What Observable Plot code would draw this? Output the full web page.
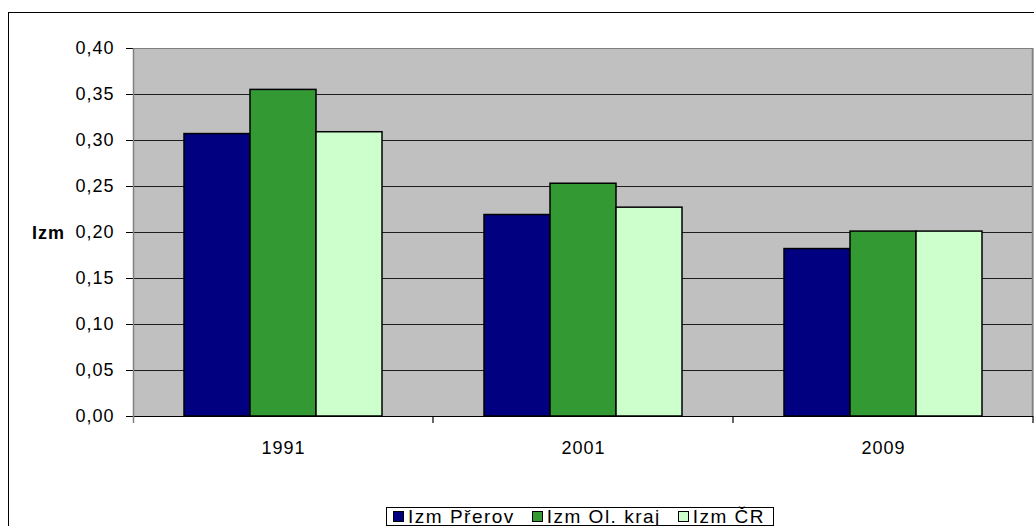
<!DOCTYPE html>
<html>
<head>
<meta charset="utf-8">
<script src="https://cdn.jsdelivr.net/npm/d3@7"></script>
<script src="https://cdn.jsdelivr.net/npm/@observablehq/plot@0.6"></script>
<style>
  html, body { margin: 0; padding: 0; background: #fff; overflow: hidden; }
  #wrap { position: relative; width: 1034px; height: 526px; overflow: hidden; font-family: "Liberation Sans", Arial, sans-serif; color: #000; }
  #outer { position: absolute; left: 8px; top: 12px; width: 1100px; height: 600px; border: 1px solid #000; box-sizing: border-box; }
  #chart { position: absolute; left: 0; top: 0; }
  #ylab { position: absolute; left: 32px; top: 222px; font-weight: bold; font-size: 18px; letter-spacing: 1px; line-height: 22px; }
  #legend { position: absolute; left: 386px; top: 507px; width: 388px; height: 19px; box-sizing: border-box; border: 1px solid #000; background: #fff;
            display: flex; align-items: center; justify-content: space-between; padding: 0 8px 0 6px; font-size: 19px; line-height: 17px; letter-spacing: 1.5px; white-space: nowrap; }
  .item { display: flex; align-items: center; }
  .sw { width: 9px; height: 9px; border: 1px solid #000; margin-right: 4px; }
</style>
</head>
<body>
<div id="wrap">
  <div id="outer"></div>
  <div id="chart"></div>
  <div id="ylab">Izm</div>
  <div id="legend"></div>
</div>
<script>
const years = ["1991", "2001", "2009"];
const series = ["Izm Přerov", "Izm Ol. kraj", "Izm ČR"];
const prerov = [0.307, 0.219, 0.182];
const olKraj = [0.355, 0.253, 0.201];
const cr = [0.309, 0.227, 0.201];
const yTicks = [0, 0.05, 0.10, 0.15, 0.20, 0.25, 0.30, 0.35, 0.40];
const colors = ["#000080", "#339933", "#ccffcc"];

const seriesValues = [prerov, olKraj, cr];
const data = [];
years.forEach((yr, i) => {
  series.forEach((s, j) => data.push({year: yr, series: s, value: seriesValues[j][i]}));
});

const fmt = d => d3.format(".2f")(d).replace(".", ",");

const chart = Plot.plot({
  width: 1034,
  height: 526,
  marginLeft: 132,
  marginRight: 1,
  marginTop: 48,
  marginBottom: 110,
  style: {fontFamily: "'Liberation Sans', Arial, sans-serif", fontSize: "18px", background: "transparent", overflow: "visible", letterSpacing: "1px", color: "#000"},
  fx: {domain: years, padding: 0, label: null},
  x: {domain: series, paddingInner: 0, paddingOuter: 0.74, axis: null},
  y: {domain: [0, 0.4], label: null},
  color: {domain: series, range: colors},
  marks: [
    Plot.frame({fill: "#c0c0c0", stroke: "#c0c0c0"}),
    Plot.gridY(yTicks.slice(1, -1), {stroke: "#000", strokeOpacity: 0.85}),
    Plot.gridY([0.4], {stroke: "#808080", strokeOpacity: 1}),
    Plot.barY(data, {fx: "year", x: "series", y: "value", fill: "series", stroke: "#000", strokeWidth: 1.5}),
    Plot.ruleY([0], {stroke: "#000", strokeWidth: 1.2}),
    Plot.axisY(yTicks, {tickSize: 7, tickPadding: 12, tickFormat: fmt, label: null, stroke: "#000", fill: "#000"}),
    Plot.axisFx({anchor: "bottom", tickSize: 0, tickPadding: 25, label: null, fill: "#000"})
  ]
});
document.getElementById("chart").appendChild(chart);

// boundary ticks and plot-area edges from the library's scales
const fx = chart.scale("fx");
const y = chart.scale("y");
const svg = d3.select(chart);
const y0 = y.apply(0), yTop = y.apply(0.4);
const xs = years.map(d => fx.apply(d)).concat([fx.range[1]]);
svg.append("g").selectAll("line").data(xs.slice(1)).join("line")
  .attr("x1", d => d).attr("x2", d => d).attr("y1", y0).attr("y2", y0 + 7)
  .attr("stroke", "#000").attr("stroke-width", 1.2);
svg.append("line").attr("x1", xs[0] + 0.5).attr("x2", xs[0] + 0.5).attr("y1", yTop).attr("y2", y0 + 7)
  .attr("stroke", "#808080").attr("stroke-width", 1.5);
svg.append("line").attr("x1", fx.range[1] - 0.5).attr("x2", fx.range[1] - 0.5).attr("y1", yTop).attr("y2", y0)
  .attr("stroke", "#808080").attr("stroke-width", 1.5);

// legend
const legend = d3.select("#legend");
series.forEach((s, i) => {
  const it = legend.append("div").attr("class", "item");
  it.append("div").attr("class", "sw").style("background", colors[i]);
  it.append("span").text(s);
});
</script>
</body>
</html>
